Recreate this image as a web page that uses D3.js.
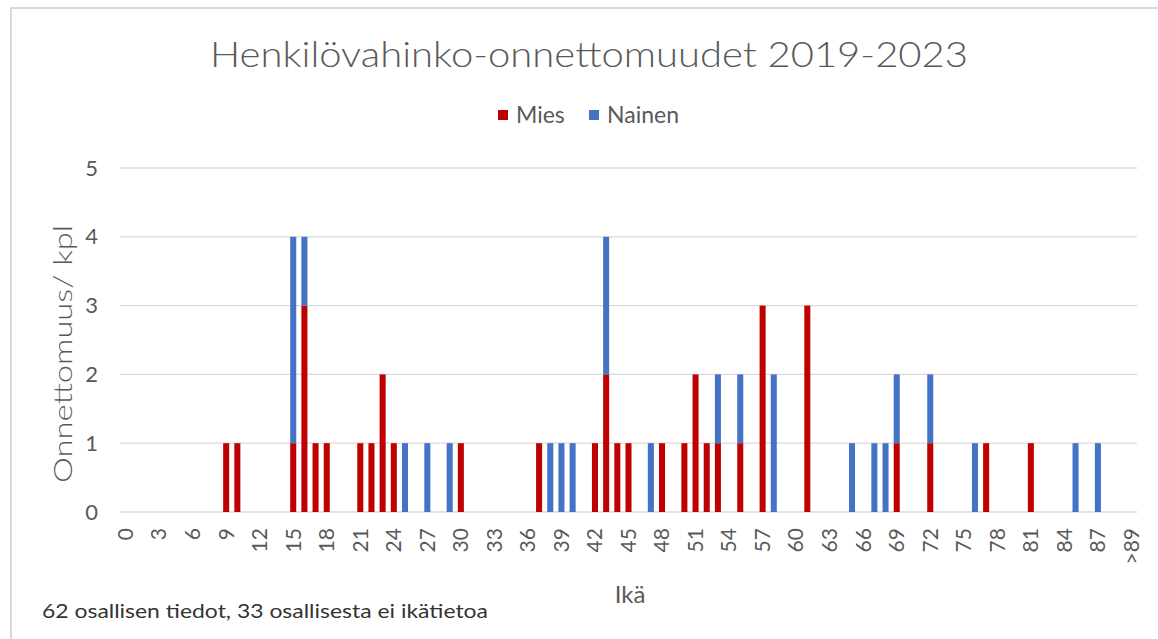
<!DOCTYPE html>
<html>
<head>
<meta charset="utf-8">
<script src="https://cdn.jsdelivr.net/npm/d3@7"></script>
<style>
  body { margin: 0; background: #fff; }
  svg text { font-family: Lato, "Open Sans", sans-serif; }
</style>
</head>
<body>
<div id="chart"></div>
<script>
// ika-luokat 0..89 ja ">89"
const ages = d3.range(90).map(String).concat([">89"]);
const seriesNames = ["Mies", "Nainen"];
const seriesColors = ["#C00000", "#4472C4"];
// Mies, kpl per ika
const mies = [
  0,0,0,0,0,0,0,0,0,1,
  1,0,0,0,0,1,3,1,1,0,
  0,1,1,2,1,0,0,0,0,0,
  1,0,0,0,0,0,0,1,0,0,
  0,0,1,2,1,1,0,0,1,0,
  1,2,1,1,0,1,0,3,0,0,
  0,3,0,0,0,0,0,0,0,1,
  0,0,1,0,0,0,0,1,0,0,
  0,1,0,0,0,0,0,0,0,0,
  0
];
// Nainen, kpl per ika
const nainen = [
  0,0,0,0,0,0,0,0,0,0,
  0,0,0,0,0,3,1,0,0,0,
  0,0,0,0,0,1,0,1,0,1,
  0,0,0,0,0,0,0,0,1,1,
  1,0,0,2,0,0,0,1,0,0,
  0,0,0,1,0,1,0,0,2,0,
  0,0,0,0,0,1,0,1,1,1,
  0,0,1,0,0,0,1,0,0,0,
  0,0,0,0,0,1,0,1,0,0,
  0
];
const yTicks = [0, 1, 2, 3, 4, 5];

const W = 1158, H = 639;
const margin = {left: 120, right: 21, top: 168, bottom: 127};

const svg = d3.select("#chart").append("svg")
  .attr("width", W).attr("height", H);

// kehys
svg.append("rect")
  .attr("x", 11).attr("y", 8)
  .attr("width", W + 20).attr("height", H + 20)
  .attr("fill", "none")
  .attr("stroke", "#d9d9d9")
  .attr("stroke-width", 2);

const x = d3.scaleBand()
  .domain(ages)
  .range([margin.left, W - margin.right])
  .paddingInner(0.46)
  .paddingOuter(0.23);
const y = d3.scaleLinear()
  .domain([0, 5])
  .range([H - margin.bottom, margin.top]);

// ruudukko
svg.append("g")
  .selectAll("line")
  .data(yTicks)
  .join("line")
  .attr("x1", margin.left).attr("x2", W - margin.right)
  .attr("y1", d => y(d)).attr("y2", d => y(d))
  .attr("stroke", "#d9d9d9")
  .attr("stroke-width", 1.3);

// pinotut palkit
const table = ages.map((a, i) => ({age: a, Mies: mies[i], Nainen: nainen[i]}));
const stacked = d3.stack().keys(seriesNames)(table);
svg.append("g")
  .selectAll("g")
  .data(stacked)
  .join("g")
  .attr("fill", (d, i) => seriesColors[i])
  .selectAll("rect")
  .data(d => d.filter(v => v[1] > v[0]))
  .join("rect")
  .attr("x", d => x(d.data.age))
  .attr("width", x.bandwidth())
  .attr("y", d => y(d[1]))
  .attr("height", d => y(d[0]) - y(d[1]));

// y-akseli
const yAxis = svg.append("g")
  .attr("transform", `translate(${margin.left},0)`)
  .call(d3.axisLeft(y).tickValues(yTicks).tickFormat(d3.format("d")).tickSize(0).tickPadding(22));
yAxis.select(".domain").remove();
yAxis.selectAll("text")
  .attr("fill", "#595959")
  .style("font-size", "22px");

// x-akseli
const xAxis = svg.append("g")
  .attr("transform", `translate(0,${H - margin.bottom})`)
  .call(d3.axisBottom(x).tickValues(ages.filter((d, i) => i % 3 === 0)).tickSize(0));
xAxis.select(".domain").remove();
xAxis.selectAll("text")
  .attr("fill", "#595959")
  .style("font-size", "21px")
  .attr("text-anchor", "end")
  .attr("transform", "rotate(-90)")
  .attr("x", -16)
  .attr("y", 0)
  .attr("dy", "0.35em");

// otsikot
svg.append("text")
  .attr("x", 589).attr("y", 67)
  .attr("text-anchor", "middle")
  .attr("fill", "#595959")
  .attr("textLength", 758)
  .attr("lengthAdjust", "spacingAndGlyphs")
  .style("font-size", "36px")
  .style("font-weight", 300)
  .text("Henkilövahinko-onnettomuudet 2019-2023");

svg.append("text")
  .attr("transform", `translate(72,354) rotate(-90)`)
  .attr("text-anchor", "middle")
  .attr("fill", "#595959")
  .attr("textLength", 258)
  .attr("lengthAdjust", "spacingAndGlyphs")
  .style("font-size", "26px")
  .style("font-weight", 300)
  .text("Onnettomuus/ kpl");

svg.append("text")
  .attr("x", 630).attr("y", 603)
  .attr("text-anchor", "middle")
  .attr("fill", "#595959")
  .style("font-size", "24px")
  .text("Ikä");

svg.append("text")
  .attr("x", 42).attr("y", 618)
  .attr("fill", "#333")
  .attr("textLength", 446)
  .attr("lengthAdjust", "spacingAndGlyphs")
  .style("font-size", "19px")
  .text("62 osallisen tiedot, 33 osallisesta ei ikätietoa");

// selite
const legendX = [498, 589];
const legend = svg.append("g")
  .selectAll("g")
  .data(seriesNames)
  .join("g")
  .attr("transform", (d, i) => `translate(${legendX[i]},110)`);
legend.append("rect")
  .attr("width", 10).attr("height", 10)
  .attr("fill", (d, i) => seriesColors[i]);
legend.append("text")
  .attr("x", 18).attr("y", 5)
  .attr("dy", "0.35em")
  .attr("fill", "#595959")
  .style("font-size", "23px")
  .text(d => d);
</script>
</body>
</html>
